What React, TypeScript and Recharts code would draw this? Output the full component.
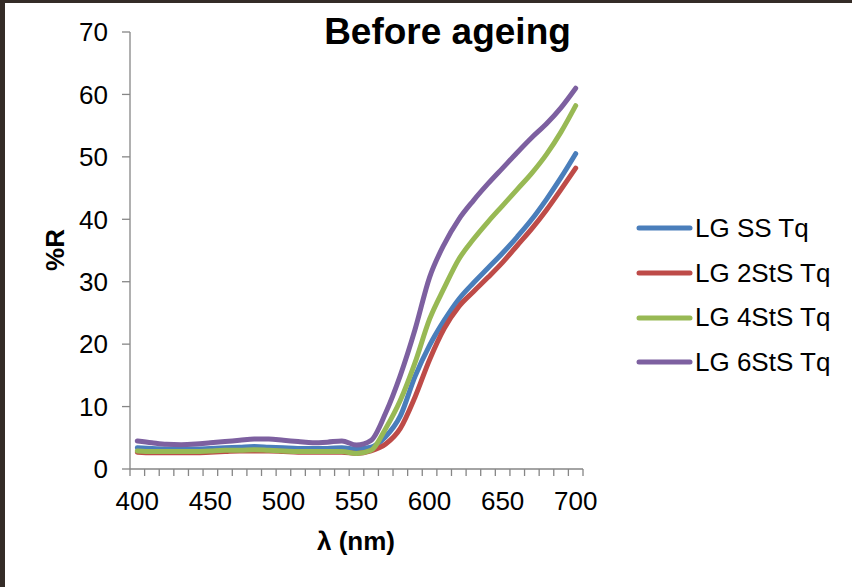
import React from 'react';
import { LineChart, Line, XAxis, YAxis, Legend, Label } from 'recharts';

const wavelengths = [400, 410, 420, 430, 440, 450, 460, 470, 480, 490, 500, 510, 520, 530, 540, 550, 560, 570, 580, 590, 600, 610, 620, 630, 640, 650, 660, 670, 680, 690, 700];
const lgSS = [3.4, 3.3, 3.2, 3.2, 3.2, 3.3, 3.4, 3.5, 3.6, 3.5, 3.4, 3.3, 3.3, 3.3, 3.4, 3.2, 3.5, 5.2, 8.5, 14.8, 19.8, 23.8, 27.2, 29.8, 32.2, 34.6, 37.2, 40.0, 43.2, 46.7, 50.5];
const lg2StS = [2.7, 2.6, 2.6, 2.6, 2.6, 2.7, 2.8, 2.9, 2.9, 2.9, 2.8, 2.7, 2.7, 2.7, 2.7, 2.5, 2.9, 4.0, 6.5, 11.5, 17.5, 22.5, 26.0, 28.4, 30.7, 33.1, 35.8, 38.5, 41.5, 44.8, 48.2];
const lg4StS = [2.9, 2.8, 2.8, 2.8, 2.8, 2.9, 3.0, 3.0, 3.1, 3.0, 2.9, 2.8, 2.8, 2.8, 2.8, 2.5, 3.0, 6.5, 11.0, 17.0, 24.0, 29.0, 33.6, 36.8, 39.6, 42.2, 44.8, 47.4, 50.4, 54.0, 58.2];
const lg6StS = [4.5, 4.2, 3.95, 3.9, 4.0, 4.2, 4.4, 4.6, 4.8, 4.8, 4.6, 4.4, 4.2, 4.3, 4.5, 3.85, 4.6, 9.0, 15.0, 22.3, 30.7, 36.0, 40.0, 43.0, 45.7, 48.2, 50.7, 53.1, 55.3, 57.9, 61.0];

const seriesNames = ['LG SS Tq', 'LG 2StS Tq', 'LG 4StS Tq', 'LG 6StS Tq'];
const seriesKeys = ['ss', 's2', 's4', 's6'];
const seriesColors = ['#4a7ebb', '#be4b48', '#98b954', '#7d60a0'];

const yTicks = [0, 10, 20, 30, 40, 50, 60, 70];
const xLabelTicks = [400, 450, 500, 550, 600, 650, 700];
const xMarkTicks = [395, 405, 415, 425, 435, 445, 455, 465, 475, 485, 495, 505, 515, 525, 535, 545, 555, 565, 575, 585, 595, 605, 615, 625, 635, 645, 655, 665, 675, 685, 695, 705];
const xAllTicks = [...xMarkTicks, ...xLabelTicks].sort((a, b) => a - b);

const data = wavelengths.map((w, i) => ({
  w,
  ss: lgSS[i],
  s2: lg2StS[i],
  s4: lg4StS[i],
  s6: lg6StS[i],
}));

const FONT = '"Liberation Sans", Arial, sans-serif';
const AXIS_COLOR = '#868686';

const XTick = (props: any) => {
  const { x, y, payload } = props;
  const v = payload.value;
  if (xLabelTicks.includes(v)) {
    return (
      <text x={x} y={y + 41} textAnchor="middle" fontFamily={FONT} fontSize={26} fill="#000">
        {v}
      </text>
    );
  }
  return <line x1={x} y1={y} x2={x} y2={y + 7} stroke={AXIS_COLOR} strokeWidth={1.3} />;
};

const renderLegend = () => (
  <div style={{ position: 'absolute', left: 636, top: 206 }}>
    {seriesNames.map((name, i) => (
      <div key={name} style={{ display: 'flex', alignItems: 'center', height: 44.7 }}>
        <svg width={58} height={10} style={{ display: 'block' }}>
          <line x1={3} y1={5} x2={54} y2={5} stroke={seriesColors[i]} strokeWidth={5} strokeLinecap="round" />
        </svg>
        <span style={{ fontFamily: FONT, fontSize: 26, color: '#000', marginLeft: 1, whiteSpace: 'nowrap' }}>{name}</span>
      </div>
    ))}
  </div>
);

export default function App() {
  return (
    <div style={{ position: 'absolute', left: 0, top: 0, width: 852, height: 587, background: '#342c27' }}>
      <div style={{ position: 'absolute', left: 5, top: 3, width: 847, height: 584, background: '#ffffff' }} />
      <div
        style={{
          position: 'absolute',
          left: 0,
          top: 11,
          width: 895,
          textAlign: 'center',
          fontFamily: FONT,
          fontWeight: 'bold',
          fontSize: 37,
          color: '#000',
          lineHeight: '42px',
        }}
      >
        Before ageing
      </div>
      <div style={{ position: 'absolute', left: 0, top: 0 }}>
        <LineChart width={852} height={587} data={data} margin={{ top: 32, right: 269, bottom: 0, left: 0 }}>
          <XAxis
            dataKey="w"
            type="number"
            domain={[395, 705]}
            ticks={xAllTicks}
            interval={0}
            tick={<XTick />}
            tickLine={false}
            tickSize={0}
            tickMargin={0}
            axisLine={{ stroke: AXIS_COLOR, strokeWidth: 1.3 }}
            height={118}
          >
            <Label
              content={() => (
                <text x={356} y={550} textAnchor="middle" fontFamily={FONT} fontWeight="bold" fontSize={26} fill="#000">
                  λ (nm)
                </text>
              )}
            />
          </XAxis>
          <YAxis
            type="number"
            domain={[0, 70]}
            ticks={yTicks}
            interval={0}
            width={130}
            tickSize={8}
            tickMargin={14}
            tick={{ fontFamily: FONT, fontSize: 26, fill: '#000' }}
            tickLine={{ stroke: AXIS_COLOR, strokeWidth: 1.3 }}
            axisLine={{ stroke: AXIS_COLOR, strokeWidth: 1.3 }}
          >
            <Label
              content={() => (
                <text
                  transform="translate(55,250) rotate(-90)"
                  textAnchor="middle"
                  dominantBaseline="central"
                  fontFamily={FONT}
                  fontWeight="bold"
                  fontSize={26}
                  fill="#000"
                >
                  %R
                </text>
              )}
            />
          </YAxis>
          <Legend
            layout="vertical"
            align="right"
            verticalAlign="middle"
            content={renderLegend}
            wrapperStyle={{ left: 0, top: 0, width: 0, height: 0 }}
          />
          {seriesKeys.map((k, i) => (
            <Line
              key={k}
              dataKey={k}
              name={seriesNames[i]}
              stroke={seriesColors[i]}
              strokeWidth={5}
              strokeLinecap="round"
              strokeLinejoin="round"
              type="monotone"
              dot={false}
              activeDot={false}
              isAnimationActive={false}
            />
          ))}
        </LineChart>
      </div>
    </div>
  );
}
